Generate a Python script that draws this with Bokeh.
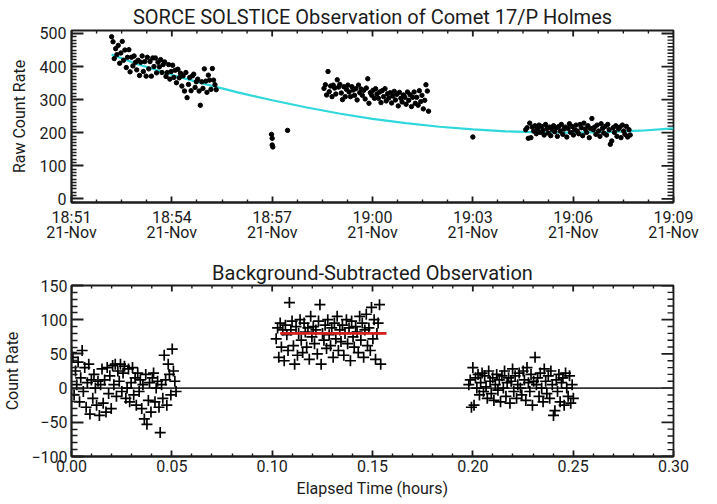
from bokeh.plotting import figure
from bokeh.models import Range1d, FixedTicker, NumeralTickFormatter
from bokeh.layouts import column
from bokeh.embed import file_html
from bokeh.resources import INLINE

# ---------------- data ----------------
# sample offsets within one observation block (hours since block start)
sample_offset_h = [
    0.0000, 0.0007, 0.0013, 0.0020, 0.0026, 0.0033, 0.0040, 0.0046, 0.0053, 0.0059,
    0.0066, 0.0073, 0.0079, 0.0086, 0.0092, 0.0099, 0.0106, 0.0112, 0.0119, 0.0125,
    0.0132, 0.0139, 0.0145, 0.0152, 0.0158, 0.0165, 0.0172, 0.0178, 0.0185, 0.0191,
    0.0198, 0.0205, 0.0211, 0.0218, 0.0224, 0.0231, 0.0238, 0.0244, 0.0251, 0.0257,
    0.0264, 0.0271, 0.0277, 0.0284, 0.0290, 0.0297, 0.0304, 0.0310, 0.0317, 0.0323,
    0.0330, 0.0337, 0.0343, 0.0350, 0.0356, 0.0363, 0.0370, 0.0376, 0.0383, 0.0389,
    0.0396, 0.0403, 0.0409, 0.0416, 0.0422, 0.0429, 0.0436, 0.0442, 0.0449, 0.0455,
    0.0462, 0.0469, 0.0475, 0.0482, 0.0488, 0.0495, 0.0502, 0.0508, 0.0515, 0.0521,
]
# block starts: minutes after 18:51 (top panel) and elapsed hours (bottom panel)
top_start_min = [1.2, 7.55, 13.58]
bottom_start_h = [0.0, 0.102, 0.198]

raw_block1 = [
    490, 475, 424, 454, 436, 464, 410, 441, 476, 419, 450, 397, 428, 451, 384, 428, 402, 432, 413, 390,
    419, 373, 413, 432, 385, 415, 371, 428, 393, 415, 371, 426, 400, 426, 381, 413, 399, 421, 382, 406,
    414, 370, 382, 406, 362, 385, 404, 367, 389, 351, 392, 366, 380, 341, 372, 326, 382, 306, 346, 367,
    327, 372, 377, 337, 354, 362, 326, 283, 354, 334, 393, 356, 322, 374, 359, 331, 394, 359, 345, 330,
]
raw_block2 = [
    334, 345, 314, 385, 324, 341, 309, 344, 335, 317, 360, 338, 346, 320, 300, 339, 309, 331, 344, 323,
    309, 339, 329, 313, 333, 299, 344, 321, 332, 313, 328, 302, 335, 363, 289, 321, 313, 328, 304, 333,
    317, 304, 323, 291, 327, 309, 333, 296, 318, 305, 321, 290, 311, 325, 299, 316, 281, 322, 304, 293,
    314, 307, 286, 323, 298, 315, 279, 307, 323, 289, 307, 283, 327, 294, 313, 272, 298, 345, 326, 265,
]
raw_block3 = [
    209, 215, 183, 229, 185, 217, 205, 221, 197, 211, 223, 201, 219, 207, 193, 225, 213, 199, 217, 191,
    209, 221, 203, 215, 189, 219, 205, 225, 195, 211, 217, 187, 213, 227, 201, 219, 193, 209, 223, 205,
    197, 225, 215, 191, 229, 211, 201, 221, 185, 213, 243, 209, 217, 195, 223, 205, 189, 227, 213, 199,
    219, 193, 225, 209, 165, 175, 215, 201, 221, 189, 211, 217, 185, 223, 205, 195, 219, 187, 209, 193,
]
# isolated raw points
iso_min = [5.98, 6.0, 6.0, 6.02, 6.46, 12.0]
iso_raw = [195, 183, 163, 157, 207, 187]

# background fit (cyan curve), minutes after 18:51
fit_min = [1.2, 2, 3, 4, 5, 6, 7, 8, 9, 10, 11, 12, 13, 14, 15, 16, 17, 18]
fit_raw = [436, 406, 375, 347, 321, 298, 277, 258, 242, 229, 218, 210, 204, 201, 200, 202, 206, 213]

sub_block1 = [
    52, 45, -10, 25, 5, 38, -20, 15, 55, -5, 30, -28,
    8, 35, -38, 12, -15, 20, 0, -25, 10, -40, 5, 28,
    -22, 12, -35, 30, -8, 18, -30, 33, 5, 35, -12, 25,
    10, 35, -5, 22, 32, -15, 0, 28, -20, 8, 30, -10,
    15, -25, 22, -5, 12, -30, 5, -45, 20, -53, -18, 8,
    -35, 15, 22, -20, 0, 10, -28, -65, 5, -15, 48, 12,
    -25, 35, 20, -10, 57, 25, 10, -5,
]
sub_block2 = [
    72, 88, 45, 95, 60, 85, 40, 92, 78, 55,
    125, 85, 98, 62, 35, 90, 48, 80, 100, 70,
    52, 95, 82, 60, 88, 42, 105, 75, 90, 65,
    85, 50, 98, 122, 35, 80, 70, 92, 58, 100,
    78, 62, 88, 45, 95, 72, 105, 55, 85, 68,
    92, 48, 80, 100, 65, 88, 40, 98, 75, 60,
    90, 82, 52, 105, 70, 95, 45, 85, 108, 62,
    88, 55, 118, 72, 100, 42, 80, 95, 122, 35,
]
sub_block3 = [
    5, 12, -28, 30, -25, 15, 0, 20, -10, 8,
    22, -5, 18, 2, -15, 25, 10, -8, 15, -18,
    5, 20, -3, 12, -20, 18, 0, 25, -12, 8,
    15, -22, 10, 28, -5, 18, -15, 5, 22, 0,
    -10, 25, 12, -18, 30, 8, -5, 20, -25, 10,
    45, 5, 15, -12, 22, 0, -20, 28, 10, -8,
    18, -15, 25, 5, -40, -33, 12, -5, 20, -20,
    8, 15, -25, 22, 0, -12, 18, -22, 5, -15,
]
# mean count rate of the comet block (red line)
mean_x = [0.104, 0.157]
mean_y = [80, 80]
zero_x = [0.0, 0.30]
zero_y = [0, 0]

# axis ticks
top_x_ticks = [0, 3, 6, 9, 12, 15, 18]
top_x_labels = ["18:51\n21-Nov", "18:54\n21-Nov", "18:57\n21-Nov", "19:00\n21-Nov",
                "19:03\n21-Nov", "19:06\n21-Nov", "19:09\n21-Nov"]
top_x_minor = [0.75, 1.5, 2.25, 3.75, 4.5, 5.25, 6.75, 7.5, 8.25, 9.75, 10.5, 11.25,
               12.75, 13.5, 14.25, 15.75, 16.5, 17.25]
top_y_ticks = [0, 100, 200, 300, 400, 500]
bot_x_ticks = [0.0, 0.05, 0.10, 0.15, 0.20, 0.25, 0.30]
bot_y_ticks = [-100, -50, 0, 50, 100, 150]

# ---------------- styling ----------------
FONT = "Roboto"
INK = "#1c1c1c"
TOP_X = (0, 18)
TOP_Y = (-11, 509)
BOT_X = (0, 0.30)
BOT_Y = (-100, 150)
FRAME_W = 602
TOP_H = 172
BOT_H = 171


def style_axis(ax, major_len, minor_len, standoff):
    ax.axis_line_color = INK
    ax.axis_line_width = 1.8
    ax.major_tick_in = major_len
    ax.major_tick_out = 0
    ax.minor_tick_in = minor_len
    ax.minor_tick_out = 0
    ax.major_tick_line_color = INK
    ax.minor_tick_line_color = INK
    ax.major_tick_line_width = 1.8
    ax.minor_tick_line_width = 1.4
    ax.major_label_text_font = FONT
    ax.major_label_text_color = INK
    ax.major_label_text_font_size = "16px"
    ax.major_label_standoff = standoff
    ax.axis_label_text_font = FONT
    ax.axis_label_text_font_size = "16px"
    ax.axis_label_text_font_style = "normal"
    ax.axis_label_text_color = INK


def make_fig(xr, yr, title, fh, title_standoff, bottom_border):
    p = figure(frame_width=FRAME_W, frame_height=fh, x_range=Range1d(*xr), y_range=Range1d(*yr),
               output_backend="svg", toolbar_location=None,
               min_border_left=64, min_border_right=34, min_border_top=0,
               min_border_bottom=bottom_border)
    p.title.text = title
    p.title.text_font = FONT
    p.title.text_font_size = "20px"
    p.title.text_font_style = "normal"
    p.title.text_color = INK
    p.title.align = "center"
    p.title.standoff = title_standoff
    p.xgrid.visible = False
    p.ygrid.visible = False
    p.outline_line_color = INK
    p.outline_line_width = 1.8
    p.background_fill_color = "white"
    p.border_fill_color = "white"
    return p


def mirror_ticks(p, xr, yr, frame_h, xmaj, xmin, ymaj, ymin, xlen, ylen):
    # tick marks on the top and right frame edges, lengths converted from pixels
    dy = (yr[1] - yr[0]) / frame_h
    dx = (xr[1] - xr[0]) / FRAME_W
    for xs, ln, lw in ((xmaj, xlen, 1.8), (xmin, xlen / 2, 1.4)):
        p.segment(x0=xs, y0=[yr[1]] * len(xs), x1=xs, y1=[yr[1] - ln * dy] * len(xs),
                  line_color=INK, line_width=lw)
    for ys, ln, lw in ((ymaj, ylen, 1.8), (ymin, ylen / 2, 1.4)):
        p.segment(x0=[xr[1]] * len(ys), y0=ys, x1=[xr[1] - ln * dx] * len(ys), y1=ys,
                  line_color=INK, line_width=lw)


# ---------------- top panel ----------------
p1 = make_fig(TOP_X, TOP_Y, "SORCE SOLSTICE Observation of Comet 17/P Holmes", TOP_H, 4, 56)
top_y_minor = [v for v in range(-10, TOP_Y[1], 10) if v not in top_y_ticks]
p1.xaxis.ticker = FixedTicker(ticks=top_x_ticks, minor_ticks=top_x_minor)
p1.yaxis.ticker = FixedTicker(ticks=top_y_ticks, minor_ticks=top_y_minor)
p1.xaxis.major_label_overrides = {t: s for t, s in zip(top_x_ticks, top_x_labels)}
p1.xaxis.major_label_text_line_height = 0.8
p1.yaxis.axis_label = "Raw Count Rate"
p1.yaxis.axis_label_standoff = 8
for ax in p1.xaxis:
    style_axis(ax, 6, 3, 5)
for ax in p1.yaxis:
    style_axis(ax, 12, 5, 5)
mirror_ticks(p1, TOP_X, TOP_Y, TOP_H, top_x_ticks, top_x_minor, top_y_ticks, top_y_minor, 6, 12)

p1.line(fit_min, fit_raw, line_color="#30d8dc", line_width=2.2)
for start, vals in zip(top_start_min, [raw_block1, raw_block2, raw_block3]):
    xs = [start + h * 60 for h in sample_offset_h]
    p1.scatter(xs, vals, marker="circle", size=4.4, fill_color="black", line_color="black")
p1.scatter(iso_min, iso_raw, marker="circle", size=4.4, fill_color="black", line_color="black")

# ---------------- bottom panel ----------------
p2 = make_fig(BOT_X, BOT_Y, "Background-Subtracted Observation", BOT_H, 1, 44)
bot_x_minor = [round(i * 0.01, 2) for i in range(31) if i % 5 != 0]
bot_y_minor = [v for v in range(BOT_Y[0], BOT_Y[1], 10) if v not in bot_y_ticks]
p2.xaxis.ticker = FixedTicker(ticks=bot_x_ticks, minor_ticks=bot_x_minor)
p2.yaxis.ticker = FixedTicker(ticks=bot_y_ticks, minor_ticks=bot_y_minor)
p2.xaxis.formatter = NumeralTickFormatter(format="0.00")
p2.xaxis.axis_label = "Elapsed Time (hours)"
p2.xaxis.axis_label_standoff = 4
p2.yaxis.axis_label = "Count Rate"
p2.yaxis.axis_label_standoff = 6
for ax in p2.xaxis:
    style_axis(ax, 6, 3, 3)
for ax in p2.yaxis:
    style_axis(ax, 12, 6, 4)
mirror_ticks(p2, BOT_X, BOT_Y, BOT_H, bot_x_ticks, bot_x_minor, bot_y_ticks, bot_y_minor, 6, 12)

p2.line(zero_x, zero_y, line_color="#333333", line_width=1.8)
for start, vals in zip(bottom_start_h, [sub_block1, sub_block2, sub_block3]):
    xs = [start + h for h in sample_offset_h]
    p2.scatter(xs, vals, marker="cross", size=11, line_color="black", line_width=1.7)
p2.line(mean_x, mean_y, line_color="#d42020", line_width=2.6)

layout = column(p1, p2, spacing=0, margin=(0, 0, -8, 0))
open("out.html", "w").write(file_html(layout, INLINE))
